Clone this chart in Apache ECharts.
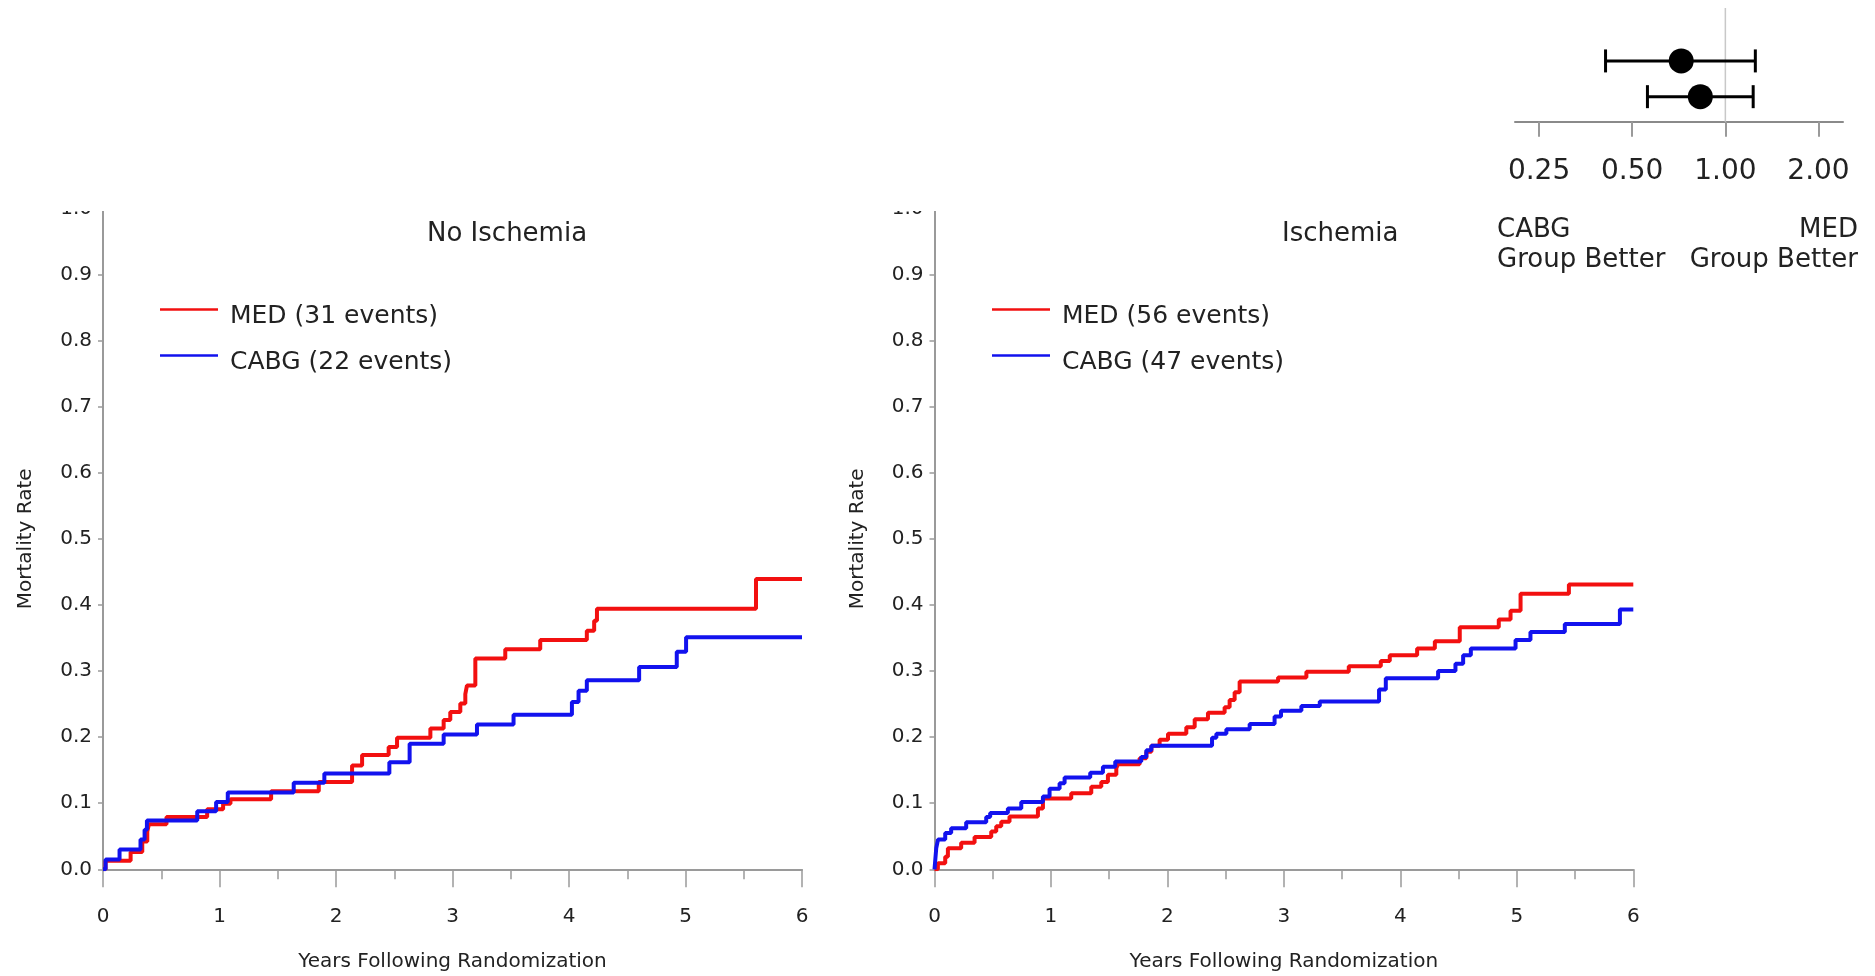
<!DOCTYPE html>
<html><head><meta charset="utf-8">
<script src="https://cdn.jsdelivr.net/npm/echarts@6/dist/echarts.min.js"></script>
<style>html,body{margin:0;padding:0;background:#fff}#c{width:1875px;height:976px}</style>
</head><body><div id="c"></div>
<script>
// ---------- data ----------
const FONT = 'DejaVu Sans';

// No Ischemia panel
const noIschMedName = 'MED (31 events)';
const noIschMedT = [0, 0.022, 0.237, 0.337, 0.38, 0.394, 0.545, 0.894, 1.031, 1.094, 1.443, 1.852, 2.138, 2.224, 2.452, 2.524, 2.81, 2.924, 2.981, 3.067, 3.11, 3.124, 3.196, 3.453, 3.753, 4.153, 4.216, 4.24, 5.605, 6.0];
const noIschMedV = [0, 0.013, 0.026, 0.042, 0.057, 0.068, 0.079, 0.091, 0.099, 0.106, 0.118, 0.132, 0.157, 0.173, 0.185, 0.199, 0.213, 0.226, 0.238, 0.251, 0.265, 0.278, 0.319, 0.333, 0.347, 0.361, 0.376, 0.394, 0.439, 0.439];
const noIschCabgName = 'CABG (22 events)';
const noIschCabgT = [0, 0.022, 0.142, 0.322, 0.357, 0.377, 0.809, 0.971, 1.071, 1.637, 1.90, 2.458, 2.632, 2.924, 3.21, 3.524, 4.025, 4.082, 4.153, 4.602, 4.925, 5.005, 6.0];
const noIschCabgV = [0, 0.015, 0.030, 0.045, 0.060, 0.074, 0.088, 0.102, 0.116, 0.131, 0.145, 0.162, 0.19, 0.204, 0.219, 0.234, 0.253, 0.270, 0.286, 0.306, 0.329, 0.351, 0.351];

// Ischemia panel
const ischMedName = 'MED (56 events)';
const ischMedT = [0, 0.029, 0.092, 0.115, 0.229, 0.344, 0.487, 0.53, 0.573, 0.644, 0.888, 0.931, 1.174, 1.346, 1.432, 1.489, 1.561, 1.575, 1.761, 1.819, 1.862, 1.933, 2.005, 2.162, 2.234, 2.348, 2.491, 2.534, 2.577, 2.62, 2.95, 3.193, 3.557, 3.832, 3.909, 4.144, 4.296, 4.51, 4.845, 4.946, 5.032, 5.447, 6.0];
const ischMedV = [0, 0.009, 0.019, 0.032, 0.040, 0.049, 0.057, 0.065, 0.072, 0.080, 0.092, 0.107, 0.115, 0.125, 0.132, 0.143, 0.153, 0.159, 0.168, 0.178, 0.187, 0.196, 0.205, 0.215, 0.227, 0.237, 0.245, 0.256, 0.268, 0.284, 0.290, 0.299, 0.307, 0.315, 0.324, 0.334, 0.345, 0.366, 0.378, 0.391, 0.417, 0.431, 0.431];
const ischCabgName = 'CABG (47 events)';
const ischCabgT = [0, 0.015, 0.03, 0.092, 0.143, 0.272, 0.444, 0.478, 0.63, 0.745, 0.931, 0.988, 1.074, 1.117, 1.337, 1.446, 1.552, 1.775, 1.819, 1.862, 2.383, 2.42, 2.506, 2.706, 2.92, 2.975, 3.15, 3.308, 3.817, 3.875, 4.324, 4.473, 4.539, 4.605, 4.989, 5.117, 5.412, 5.885, 6.0];
const ischCabgV = [0, 0.032, 0.045, 0.055, 0.062, 0.071, 0.079, 0.085, 0.092, 0.102, 0.110, 0.122, 0.130, 0.139, 0.146, 0.155, 0.163, 0.170, 0.180, 0.187, 0.199, 0.205, 0.212, 0.220, 0.231, 0.240, 0.247, 0.254, 0.272, 0.289, 0.300, 0.311, 0.324, 0.334, 0.347, 0.359, 0.371, 0.393, 0.393];

// Forest plot (hazard ratio, log scale)
const forestRows = [1, 2];
const forestEst = [0.72, 0.83];
const forestLo = [0.41, 0.56];
const forestHi = [1.25, 1.23];
const forestTicks = [0.25, 0.5, 1, 2];
const forestRef = 1;

const panelTitles = ['No Ischemia', 'Ischemia'];
const xAxisTitle = 'Years Following Randomization';
const yAxisTitle = 'Mortality Rate';
const favourLeft = ['CABG', 'Group Better'];
const favourRight = ['MED', 'Group Better'];

// ---------- chart ----------
const RED = '#f21010', BLUE = '#1212ee', AXIS = '#9a9a9a', TXT = '#222';
const pairs = (t, v) => t.map((x, i) => [x, v[i]]);

function kmSeries(name, t, v, color, idx) {
  return {
    name, type: 'line', step: 'end', xAxisIndex: idx, yAxisIndex: idx,
    data: pairs(t, v), symbol: 'none', showSymbol: false,
    color, lineStyle: { color, width: 4 }, animation: false
  };
}
function kmX(idx) {
  return {
    type: 'value', gridIndex: idx, min: 0, max: 6, interval: 1,
    axisLine: { show: true, onZero: false, lineStyle: { color: AXIS, width: 2 } },
    axisTick: { show: true, length: 18, lineStyle: { color: AXIS, width: 1.5 } },
    minorTick: { show: true, splitNumber: 2, length: 10, lineStyle: { color: AXIS, width: 1.5 } },
    axisLabel: { fontSize: 20, color: TXT, margin: 37, fontFamily: FONT },
    splitLine: { show: false }, minorSplitLine: { show: false },
    name: xAxisTitle, nameLocation: 'middle', nameGap: 82,
    nameTextStyle: { fontSize: 20, color: TXT, fontFamily: FONT }
  };
}
function kmY(idx) {
  return {
    type: 'value', gridIndex: idx, min: 0, max: 1, interval: 0.1,
    axisLine: { show: true, onZero: false, lineStyle: { color: AXIS, width: 2 } },
    axisTick: { show: true, length: 5, lineStyle: { color: AXIS, width: 1.5 } },
    axisLabel: { fontSize: 20, color: TXT, margin: 11, fontFamily: FONT, formatter: v => v.toFixed(1) },
    splitLine: { show: false },
    name: yAxisTitle, nameLocation: 'middle', nameGap: 67,
    nameTextStyle: { fontSize: 20, color: TXT, fontFamily: FONT }
  };
}
function legendFor(names, left) {
  return {
    data: names, orient: 'vertical', left, top: 304, padding: 0, itemGap: 21,
    itemWidth: 58, itemHeight: 2.5, icon: 'rect', selectedMode: false,
    formatter: '{t|{name}}',
    textStyle: { fontSize: 25, color: TXT, fontFamily: FONT,
      rich: { t: { fontSize: 25, color: TXT, fontFamily: FONT, padding: [14, 0, 0, 7] } } }
  };
}
const txt = (s, pos, top) => Object.assign({ type: 'text', top, style: { text: s, font: '26px "DejaVu Sans"', fill: TXT } }, pos);

const chart = echarts.init(document.getElementById('c'), null, { renderer: 'canvas' });
chart.setOption({
  animation: false,
  backgroundColor: '#fff',
  title: [
    { text: panelTitles[0], left: 427, top: 221, padding: 0, textStyle: { fontSize: 26, fontWeight: 'normal', color: TXT, fontFamily: FONT } },
    { text: panelTitles[1], left: 1282, top: 221, padding: 0, textStyle: { fontSize: 26, fontWeight: 'normal', color: TXT, fontFamily: FONT } }
  ],
  grid: [
    { left: 103, right: 1073, top: 208.3, bottom: 106.7, outerBoundsMode: 'none' },
    { left: 934.5, right: 241.7, top: 208.3, bottom: 106.7, outerBoundsMode: 'none' },
    { left: 1515, right: 32, top: 8, bottom: 854.3, outerBoundsMode: 'none' }
  ],
  legend: [
    legendFor([noIschMedName, noIschCabgName], 160),
    legendFor([ischMedName, ischCabgName], 992)
  ],
  xAxis: [
    kmX(0), kmX(1),
    {
      type: 'log', logBase: 2, gridIndex: 2, min: 0.209, max: 2.4, position: 'bottom',
      axisLine: { show: true, onZero: false, lineStyle: { color: '#8a8a8a', width: 2 } },
      axisTick: { show: true, length: 15, customValues: forestTicks, lineStyle: { color: AXIS, width: 2 } },
      axisLabel: { customValues: forestTicks, formatter: v => Number(v).toFixed(2), fontSize: 28, color: TXT, margin: 36, fontFamily: FONT },
      splitLine: { show: false }, minorTick: { show: false }
    }
  ],
  yAxis: [
    kmY(0), kmY(1),
    { type: 'value', gridIndex: 2, min: -0.48, max: 2.7, inverse: true, show: false }
  ],
  series: [
    kmSeries(noIschMedName, noIschMedT, noIschMedV, RED, 0),
    kmSeries(noIschCabgName, noIschCabgT, noIschCabgV, BLUE, 0),
    kmSeries(ischMedName, ischMedT, ischMedV, RED, 1),
    kmSeries(ischCabgName, ischCabgT, ischCabgV, BLUE, 1),
    {
      name: 'ref', type: 'line', xAxisIndex: 2, yAxisIndex: 2, symbol: 'none', silent: true,
      data: [[forestRef, -0.48], [forestRef, 2.7]],
      lineStyle: { color: '#c8c8c8', width: 1.5 }, z: 1
    },
    {
      name: 'HR', type: 'custom', xAxisIndex: 2, yAxisIndex: 2, z: 5,
      data: forestEst.map((e, i) => [e, forestRows[i], forestLo[i], forestHi[i]]),
      encode: { x: [0, 2, 3], y: 1 },
      renderItem: function (params, api) {
        const row = api.value(1);
        const c = api.coord([api.value(0), row]);
        const lo = api.coord([api.value(2), row]);
        const hi = api.coord([api.value(3), row]);
        const cap = 11.5;
        const st = { stroke: '#000', lineWidth: 3 };
        return { type: 'group', children: [
          { type: 'line', shape: { x1: lo[0], y1: c[1], x2: hi[0], y2: c[1] }, style: st },
          { type: 'line', shape: { x1: lo[0], y1: c[1] - cap, x2: lo[0], y2: c[1] + cap }, style: st },
          { type: 'line', shape: { x1: hi[0], y1: c[1] - cap, x2: hi[0], y2: c[1] + cap }, style: st },
          { type: 'circle', shape: { cx: c[0], cy: c[1], r: 12.5 }, style: { fill: '#000' } }
        ]};
      }
    }
  ],
  graphic: [
    txt(favourLeft[0], { left: 1497 }, 217),
    txt(favourLeft[1], { left: 1497 }, 247),
    txt(favourRight[0], { right: 17 }, 217),
    txt(favourRight[1], { right: 17 }, 247),
    { type: 'rect', shape: { x: 40, y: 0, width: 75, height: 211 }, style: { fill: '#fff' }, z: 100 },
    { type: 'rect', shape: { x: 870, y: 0, width: 75, height: 211 }, style: { fill: '#fff' }, z: 100 }
  ]
});
</script></body></html>
